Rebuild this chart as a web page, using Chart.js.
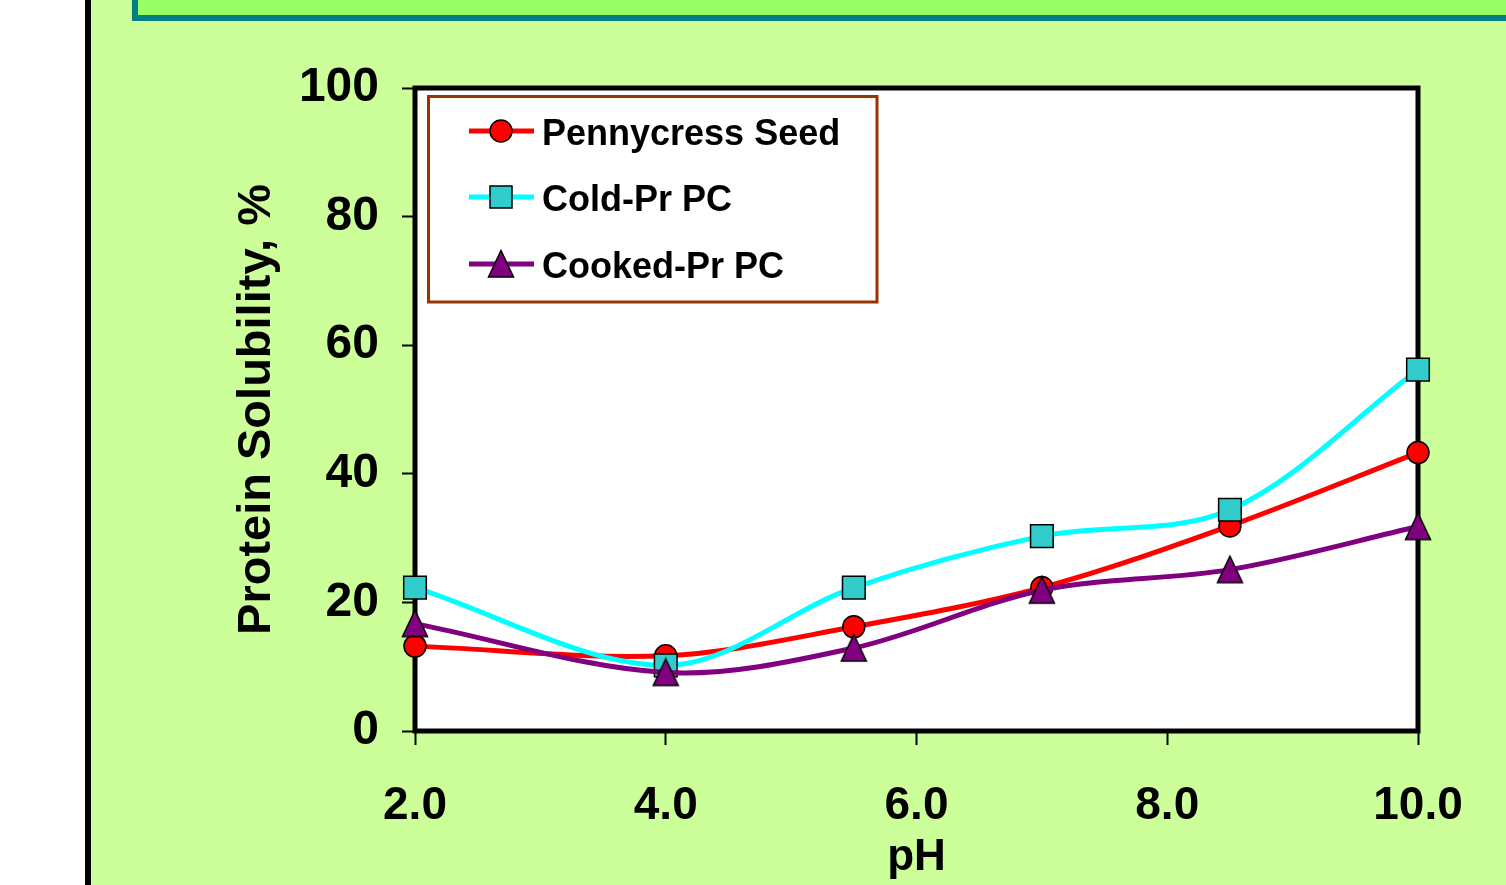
<!DOCTYPE html>
<html>
<head>
<meta charset="utf-8">
<script src="https://cdn.jsdelivr.net/npm/chart.js@4"></script>
<style>
html, body { margin:0; padding:0; }
body { width:1506px; height:885px; background:#ccff99; position:relative; overflow:hidden; }
#white { position:absolute; left:0; top:0; width:85px; height:885px; background:#fff; }
#bar { position:absolute; left:85px; top:0; width:6px; height:885px; background:#000; }
#banner { position:absolute; left:132px; top:-10px; width:1400px; height:19px; background:#99ff66; border:6px solid #008080; }
#wrap { position:absolute; left:0; top:0; width:1506px; height:885px; }
</style>
</head>
<body>
<div id="white"></div>
<div id="bar"></div>
<div id="banner"></div>
<div id="wrap"><canvas id="myChart" width="1506" height="885"></canvas></div>
<script>
// values
var phValues = [2.0, 4.0, 5.5, 7.0, 8.5, 10.0];
var pennycress = [13.2, 11.7, 16.2, 22.3, 31.9, 43.3];
var coldPr = [22.3, 10.2, 22.3, 30.3, 34.4, 56.2];
var cookedPr = [16.7, 9.1, 12.9, 21.9, 25.1, 31.8];
var seriesNames = ['Pennycress Seed', 'Cold-Pr PC', 'Cooked-Pr PC'];

var FONT = '"Liberation Sans", Arial, sans-serif';

function pts(vals) {
  return vals.map(function (v, i) { return { x: phValues[i], y: v }; });
}

// triangle marker, a bit taller than wide like the original
var tri = document.createElement('canvas');
tri.width = 28; tri.height = 30;
(function () {
  var c = tri.getContext('2d');
  c.beginPath();
  c.moveTo(14, 1.5);
  c.lineTo(26.5, 28);
  c.lineTo(1.5, 28);
  c.closePath();
  c.fillStyle = '#800080';
  c.fill();
  c.lineWidth = 1.5;
  c.strokeStyle = '#000';
  c.stroke();
})();

var framePlugin = {
  id: 'frame',
  beforeDraw: function (chart) {
    var a = chart.chartArea, c = chart.ctx;
    c.save();
    c.fillStyle = '#fff';
    c.fillRect(a.left, a.top, a.right - a.left, a.bottom - a.top);
    c.restore();
  },
  beforeDatasetsDraw: function (chart) {
    var a = chart.chartArea, c = chart.ctx;
    c.save();
    c.strokeStyle = '#000';
    c.lineWidth = 5;
    c.strokeRect(a.left, a.top, a.right - a.left, a.bottom - a.top);
    c.restore();
  },
  afterDraw: function (chart) {
    var c = chart.ctx;
    c.save();
    c.fillStyle = '#fff';
    c.fillRect(428, 96, 449, 206);
    c.strokeStyle = '#993300';
    c.lineWidth = 3;
    c.strokeRect(428.5, 96.5, 448.5, 205.5);
    var rows = [131, 197, 264];
    var cols = ['#ff0000', '#00ffff', '#800080'];
    rows.forEach(function (y, i) {
      c.beginPath();
      c.moveTo(469, y);
      c.lineTo(534, y);
      c.strokeStyle = cols[i];
      c.lineWidth = 5;
      c.stroke();
      c.lineWidth = 1.5;
      c.strokeStyle = '#000';
      if (i === 0) {
        c.beginPath();
        c.arc(501, y, 11, 0, Math.PI * 2);
        c.fillStyle = '#ff0000';
        c.fill();
        c.stroke();
      } else if (i === 1) {
        c.fillStyle = '#33cccc';
        c.fillRect(490, y - 11, 22, 22);
        c.strokeRect(490, y - 11, 22, 22);
      } else {
        c.drawImage(tri, 501 - 14, y - 15);
      }
      c.fillStyle = '#000';
      c.font = 'bold 36px ' + FONT;
      c.textBaseline = 'alphabetic';
      c.fillText(seriesNames[i], 542, y + 14);
    });
    c.restore();
  }
};

var ctx = document.getElementById('myChart').getContext('2d');
var myChart = new Chart(ctx, {
  type: 'line',
  data: {
    datasets: [{
      label: seriesNames[0],
      data: pts(pennycress),
      borderColor: '#ff0000',
      borderWidth: 5,
      pointStyle: 'circle',
      pointRadius: 11,
      pointBackgroundColor: '#ff0000',
      pointBorderColor: '#000',
      pointBorderWidth: 1.5,
      tension: 0.33,
      clip: false,
      order: 3
    }, {
      label: seriesNames[1],
      data: pts(coldPr),
      borderColor: '#00ffff',
      borderWidth: 5,
      pointStyle: 'rect',
      pointRadius: 16,
      pointBackgroundColor: '#33cccc',
      pointBorderColor: '#000',
      pointBorderWidth: 1.5,
      tension: 0.33,
      clip: false,
      order: 2
    }, {
      label: seriesNames[2],
      data: pts(cookedPr),
      borderColor: '#800080',
      borderWidth: 5,
      pointStyle: tri,
      pointRadius: 13,
      tension: 0.33,
      clip: false,
      order: 1
    }]
  },
  options: {
    responsive: false,
    animation: false,
    events: [],
    layout: { padding: { left: 229, right: 88, top: 88, bottom: 0 } },
    plugins: {
      legend: { display: false },
      tooltip: { enabled: false }
    },
    scales: {
      x: {
        type: 'linear',
        min: 2,
        max: 10,
        ticks: {
          stepSize: 2,
          maxRotation: 0,
          padding: 34,
          color: '#000',
          font: { family: FONT, size: 46, weight: 'bold' },
          callback: function (v) { return v.toFixed(1); }
        },
        grid: { drawOnChartArea: false, tickLength: 14, tickWidth: 2, tickColor: '#000' },
        border: { display: false },
        title: {
          display: true,
          text: 'pH',
          color: '#000',
          font: { family: FONT, size: 44, weight: 'bold' },
          padding: { top: 0, bottom: 1 }
        },
        afterFit: function (s) { s.height = 154; }
      },
      y: {
        min: 0,
        max: 100,
        ticks: {
          stepSize: 20,
          padding: 23,
          color: '#000',
          font: { family: FONT, size: 48, weight: 'bold' }
        },
        grid: { drawOnChartArea: false, tickLength: 13, tickWidth: 2, tickColor: '#000' },
        border: { display: false },
        title: {
          display: true,
          text: 'Protein Solubility, %',
          color: '#000',
          font: { family: FONT, size: 47, weight: 'bold' },
          padding: { top: 0, bottom: 0 }
        },
        afterFit: function (s) { s.width = 186; }
      }
    }
  },
  plugins: [framePlugin]
});
</script>
</body>
</html>
